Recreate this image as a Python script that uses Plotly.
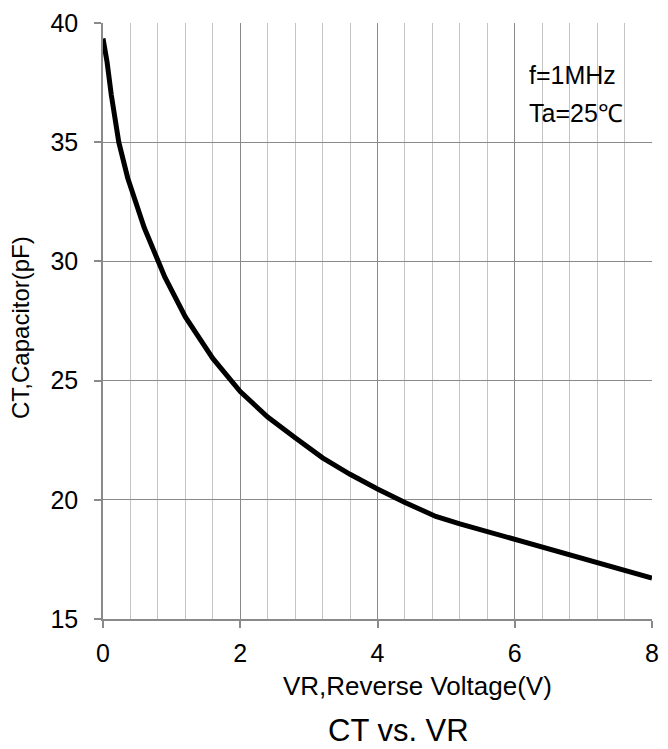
import plotly.graph_objects as go

# Data
vr = [0, 0.06, 0.12, 0.23, 0.36, 0.6, 0.82, 0.9, 1.2, 1.6, 2.0, 2.4, 2.8,
      3.2, 3.6, 4.0, 4.4, 4.85, 5.2, 5.6, 6.0, 6.4, 6.8, 7.2, 7.6, 8.0]
ct = [39.35, 38.35, 37.0, 35.0, 33.5, 31.42, 29.9, 29.35, 27.67, 25.93,
      24.54, 23.47, 22.6, 21.76, 21.07, 20.45, 19.89, 19.3, 18.99, 18.67,
      18.36, 18.04, 17.71, 17.39, 17.07, 16.72]

x_ticks = [0, 2, 4, 6, 8]
y_ticks = [15, 20, 25, 30, 35, 40]

FONT = "Liberation Sans, Arial, sans-serif"

fig = go.Figure()
fig.add_trace(go.Scatter(x=vr, y=ct, mode="lines",
                         line=dict(color="black", width=5),
                         hoverinfo="skip", showlegend=False))

L, R, T, B = 103, 9, 19, 130
W, H = 668, 749
pw, ph = W - L - R, H - T - B

def px(xp):
    return (xp - L) / pw

def py(yp):
    return (H - B - yp) / ph

fig.update_layout(
    width=W, height=H,
    margin=dict(l=L, r=R, t=T, b=B, pad=0),
    paper_bgcolor="white", plot_bgcolor="white",
    font=dict(family=FONT, color="black"),
    showlegend=False,
    xaxis=dict(range=[0, 8], tickvals=x_ticks, ticktext=[str(v) for v in x_ticks],
               showgrid=True, gridcolor="#8a8a8a", gridwidth=1.3,
               minor=dict(dtick=0.4, showgrid=True, gridcolor="#c4c4c4", gridwidth=1.3, ticks=""),
               showline=True, linecolor="#8a8a8a", linewidth=1.5,
               ticks="outside", ticklen=7, tickcolor="#8a8a8a", tickwidth=1.5,
               tickfont=dict(size=25, family=FONT, color="black"),
               ticklabelstandoff=4,
               zeroline=False, fixedrange=True),
    yaxis=dict(range=[15, 40], tickvals=y_ticks, ticktext=[str(v) for v in y_ticks],
               showgrid=True, gridcolor="#8a8a8a", gridwidth=1.3,
               showline=True, linecolor="#8a8a8a", linewidth=1.5,
               ticks="outside", ticklen=7, tickcolor="#8a8a8a", tickwidth=1.5,
               tickfont=dict(size=25, family=FONT, color="black"),
               ticklabelstandoff=11,
               zeroline=False, fixedrange=True),
    annotations=[
        dict(text="CT,Capacitor(pF)", xref="paper", yref="paper",
             x=px(20), y=py(326), textangle=-90, showarrow=False,
             xanchor="center", yanchor="middle", font=dict(size=24, family=FONT)),
        dict(text="VR,Reverse Voltage(V)", xref="paper", yref="paper",
             x=px(421.5), y=py(686), showarrow=False,
             xanchor="center", yanchor="middle", font=dict(size=26, family=FONT)),
        dict(text="CT vs. VR", xref="paper", yref="paper",
             x=px(402), y=py(731), showarrow=False,
             xanchor="center", yanchor="middle", font=dict(size=31, family=FONT)),
        dict(text="f=1MHz", xref="paper", yref="paper",
             x=px(532), y=py(71), showarrow=False,
             xanchor="left", yanchor="middle", font=dict(size=25, family=FONT)),
        dict(text="Ta=25℃", xref="paper", yref="paper",
             x=px(532), y=py(110), showarrow=False,
             xanchor="left", yanchor="middle", font=dict(size=25, family=FONT)),
    ],
)

fig.write_html("out.html", config={"displayModeBar": False})
